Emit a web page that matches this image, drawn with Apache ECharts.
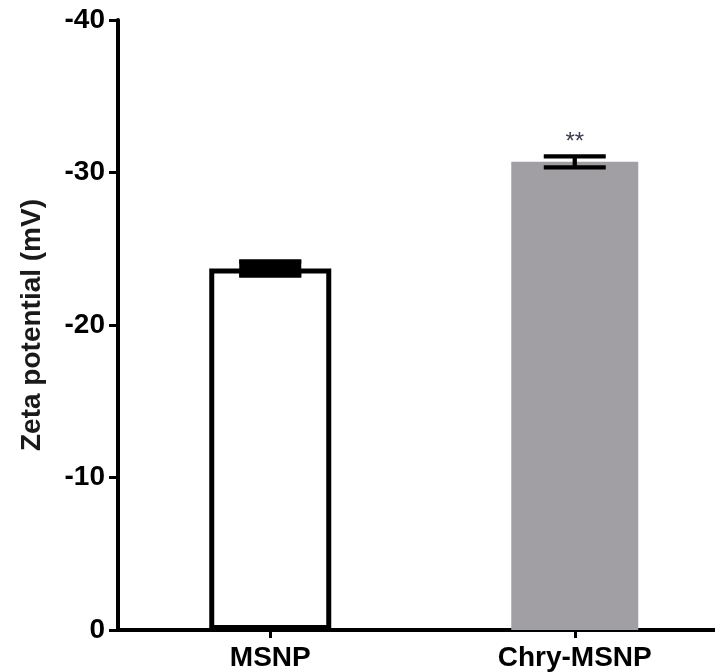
<!DOCTYPE html>
<html>
<head>
<meta charset="utf-8">
<script src="https://cdn.jsdelivr.net/npm/echarts@6/dist/echarts.min.js"></script>
<style>
  html, body { margin: 0; padding: 0; background: #fff; }
  #chart { width: 715px; height: 672px; }
</style>
</head>
<body>
<div id="chart"></div>
<script>
// Zeta potential of bare and chrysin-loaded mesoporous silica nanoparticles
const categories = ['MSNP', 'Chry-MSNP'];
const zetaMean = [-23.7, -30.7];   // mV
const zetaSem = [0.45, 0.36];      // mV, error bar half-length
const significance = ['', '**'];
const yTicks = { min: -40, max: 0, interval: 10 };

const FONT = '"Liberation Sans", Arial, sans-serif';

const chart = echarts.init(document.getElementById('chart'), null, { renderer: 'canvas' });

// one bar series per group so each gets its own width/style; each sits on its own
// (identical) category axis so both stay centred on their category
const onlyIndex = (arr, k) => arr.map((v, i) => (i === k ? v : '-'));

const chryData = onlyIndex(zetaMean, 1).map((v, i) => {
  if (v === '-' || !significance[i]) return v;
  return {
    value: v,
    label: {
      show: true,
      position: 'top',
      distance: 7,
      formatter: significance[i],
      fontFamily: FONT,
      fontSize: 24,
      fontWeight: 'normal',
      color: '#3b3b4d'
    }
  };
});

const errData = zetaMean.map((v, i) => [i, v - zetaSem[i], v + zetaSem[i]]);

const gridRect = {
  left: 118, top: 20, width: 609, bottom: 42,
  containLabel: false,
  outerBoundsMode: 'none'
};

chart.setOption({
  animation: false,
  backgroundColor: '#ffffff',
  grid: gridRect,
  xAxis: [
    {
      type: 'category',
      data: categories,
      boundaryGap: true,
      axisLine: { show: true, lineStyle: { color: '#000', width: 4 } },
      axisTick: { show: true, alignWithLabel: true, length: 8, lineStyle: { color: '#000', width: 3 } },
      axisLabel: { fontFamily: FONT, fontSize: 28, fontWeight: 'bold', color: '#000', margin: 14 },
      splitLine: { show: false }
    },
    {
      type: 'category',
      data: categories,
      boundaryGap: true,
      position: 'bottom',
      show: false
    }
  ],
  yAxis: {
    type: 'value',
    inverse: true,
    min: yTicks.min,
    max: yTicks.max,
    interval: yTicks.interval,
    name: 'Zeta potential (mV)',
    nameLocation: 'middle',
    nameGap: 72,
    nameTextStyle: { fontFamily: FONT, fontSize: 28, fontWeight: 'bold', color: '#1a1a1a' },
    axisLine: { show: true, lineStyle: { color: '#000', width: 4 } },
    axisTick: { show: true, inside: false, length: 9, lineStyle: { color: '#000', width: 3 } },
    axisLabel: { fontFamily: FONT, fontSize: 28, fontWeight: 'bold', color: '#000', margin: 13 },
    splitLine: { show: false }
  },
  series: [
    {
      type: 'bar',
      xAxisIndex: 0,
      data: onlyIndex(zetaMean, 0),
      barWidth: 122,
      itemStyle: { color: '#ffffff', borderColor: '#000000', borderWidth: 5 },
      z: 2
    },
    {
      type: 'bar',
      xAxisIndex: 1,
      data: chryData,
      barWidth: 127,
      itemStyle: { color: '#a19fa4', borderWidth: 0 },
      z: 2
    },
    {
      type: 'custom',
      xAxisIndex: 0,
      z: 5,
      data: errData,
      renderItem: function (params, api) {
        const x = api.value(0);
        const lo = api.coord([x, api.value(1)]);
        const hi = api.coord([x, api.value(2)]);
        const half = 31;
        const lw = 4.3;
        const style = { stroke: '#000', lineWidth: lw, fill: null };
        const children = [
          { type: 'line', shape: { x1: lo[0], y1: lo[1], x2: hi[0], y2: hi[1] }, style: style },
          { type: 'line', shape: { x1: lo[0] - half, y1: lo[1], x2: lo[0] + half, y2: lo[1] }, style: style },
          { type: 'line', shape: { x1: hi[0] - half, y1: hi[1], x2: hi[0] + half, y2: hi[1] }, style: style }
        ];
        // the uncoated group's error bar is drawn as a solid block between its caps
        if (params.dataIndex === 0) {
          const top = Math.min(lo[1], hi[1]) - lw / 2;
          const bottom = Math.max(lo[1], hi[1]) + lw / 2;
          children.push({
            type: 'rect',
            shape: { x: lo[0] - half, y: top, width: half * 2, height: bottom - top },
            style: { fill: '#000' }
          });
        }
        return { type: 'group', children: children };
      }
    }
  ]
});
</script>
</body>
</html>
